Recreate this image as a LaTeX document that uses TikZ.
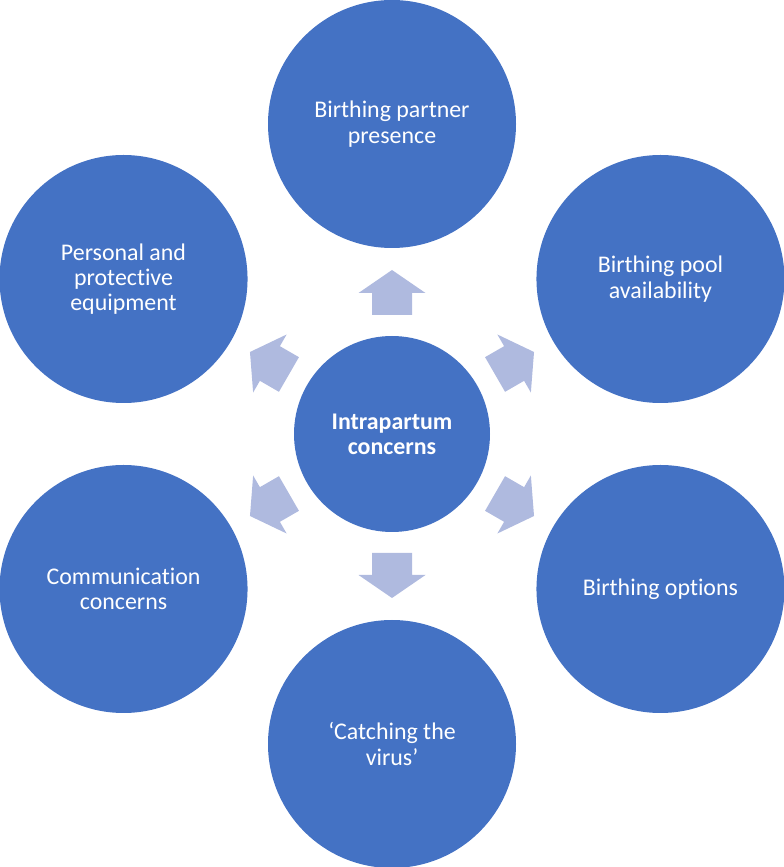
\documentclass[tikz,border=0pt]{standalone}
\usepackage{fontspec}
\setmainfont[Ligatures=NoCommon]{Carlito}
\usetikzlibrary{calc}
\definecolor{hubblue}{HTML}{4472C4}
\definecolor{arrowblue}{HTML}{AFBADF}

\begin{document}
\begin{tikzpicture}[
    font=\fontsize{13.6}{14.4}\selectfont,
    bubble/.style={circle, fill=hubblue, text=white, align=center,
                   minimum size=4.96cm, inner sep=0pt},
    hubnode/.style={circle, fill=hubblue, text=white, align=center,
                    minimum size=3.92cm, inner sep=0pt, font=\fontsize{13.6}{14.4}\selectfont\bfseries}]
    \useasboundingbox (0,0) rectangle (15.68,17.34);
    \node[hubnode] (hub) at (7.84,8.66) {Intrapartum\\concerns};
    \node[bubble] (partner) at ($(hub)+(90:6.2)$) {Birthing partner\\presence};
    \node[bubble] (pool) at ($(hub)+(30:6.2)$) {Birthing pool\\availability};
    \node[bubble] (options) at ($(hub)+(-30:6.2)$) {Birthing options};
    \node[bubble] (virus) at ($(hub)+(-90:6.2)$) {`Catching the\\virus'};
    \node[bubble] (comms) at ($(hub)+(210:6.2)$) {Communication\\concerns};
    \node[bubble] (ppe) at ($(hub)+(150:6.2)$) {Personal and\\protective\\equipment};
    % block arrows from the hub outwards
    \foreach \a in {90,30,-30,-90,210,150}{
      \begin{scope}[shift={(hub)}, rotate=\a]
        \fill[arrowblue] (2.38,-0.4) -- (2.82,-0.4) -- (2.82,-0.67) -- (3.28,0)
          -- (2.82,0.67) -- (2.82,0.4) -- (2.38,0.4) -- cycle;
      \end{scope}
    }
\end{tikzpicture}
\end{document}
